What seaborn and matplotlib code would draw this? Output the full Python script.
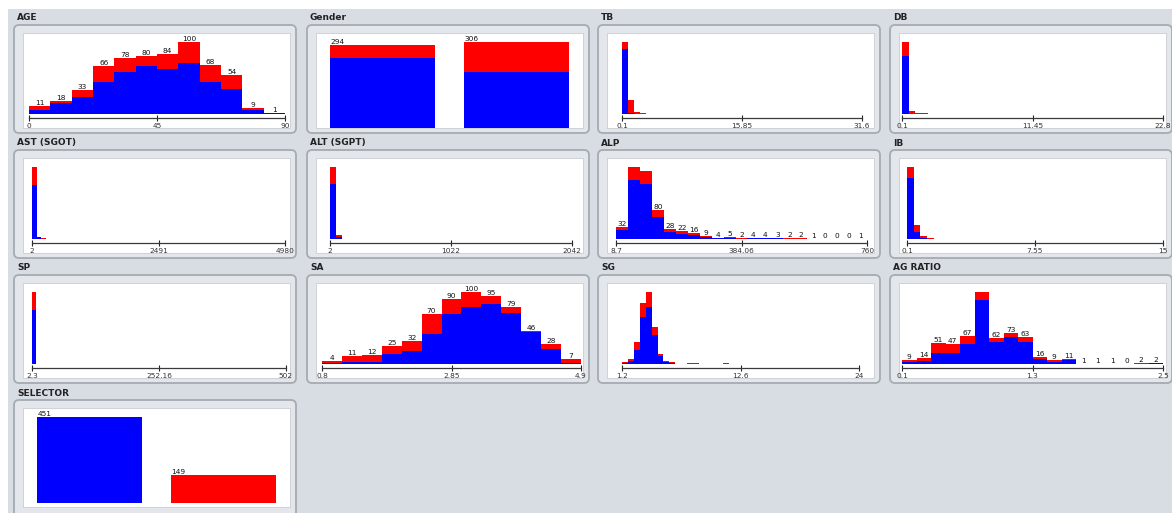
import numpy as np
import pandas as pd
import matplotlib
matplotlib.use("Agg")
import matplotlib.pyplot as plt
from matplotlib.patches import FancyBboxPatch, Rectangle
import seaborn as sns

# ---------------------------------------------------------------- data
# class colours: class "1" (blue) and class "2" (red)
BLUE = "#0000ff"
RED = "#ff0000"

age_range = (0, 90)
age_ticks = ["0", "45", "90"]
age_blue = [6, 15, 23, 45, 59, 67, 62, 71, 45, 35, 5, 1]
age_red = [5, 3, 10, 21, 19, 13, 22, 29, 23, 19, 4, 0]

gender_cats = ["Female", "Male"]
gender_blue = [250, 201]
gender_red = [44, 105]

tb_range = (0.1, 31.6)
tb_ticks = ["0.1", "15.85", "31.6"]
tb_blue = [439, 8, 2, 1, 0, 0, 0, 0, 0, 0, 0, 0, 0, 0, 0, 0, 0, 0, 0, 0,
           0, 0, 0, 0, 0, 0, 0, 0, 0, 0, 0, 0, 0, 0, 0, 0, 0, 0, 0, 1]
tb_red = [45, 83, 10, 5, 3, 2, 1, 0, 0, 0, 0, 0, 0, 0, 0, 0, 0, 0, 0, 0,
          0, 0, 0, 0, 0, 0, 0, 0, 0, 0, 0, 0, 0, 0, 0, 0, 0, 0, 0, 0]

db_range = (0.1, 22.8)
db_ticks = ["0.1", "11.45", "22.8"]
db_blue = [446, 3, 1, 1, 0, 0, 0, 0, 0, 0, 0, 0, 0, 0, 0, 0, 0, 0, 0, 0,
           0, 0, 0, 0, 0, 0, 0, 0, 0, 0, 0, 0, 0, 0, 0, 0, 0, 0, 0, 1]
db_red = [105, 23, 9, 6, 3, 2, 1, 0, 0, 0, 0, 0, 0, 0, 0, 0, 0, 0, 0, 0,
          0, 0, 0, 0, 0, 0, 0, 0, 0, 0, 0, 0, 0, 0, 0, 0, 0, 0, 0, 0]

ast_range = (2, 4980)
ast_ticks = ["2", "2491", "4980"]
ast_blue = [433, 12, 3, 1, 1, 0, 0, 0, 0, 0, 0, 0, 0, 0, 0, 0, 0, 0, 0, 0,
            0, 0, 0, 0, 0, 0, 0, 0, 0, 0, 0, 0, 0, 0, 0, 0, 0, 0, 0, 0,
            0, 0, 0, 0, 0, 0, 0, 0, 0, 0, 0, 0, 0, 0, 0, 1]
ast_red = [142, 4, 1, 1, 1, 0, 0, 0, 0, 0, 0, 0, 0, 0, 0, 0, 0, 0, 0, 0,
           0, 0, 0, 0, 0, 0, 0, 0, 0, 0, 0, 0, 0, 0, 0, 0, 0, 0, 0, 0,
           0, 0, 0, 0, 0, 0, 0, 0, 0, 0, 0, 0, 0, 0, 0, 0]

alt_range = (2, 2042)
alt_ticks = ["2", "1022", "2042"]
alt_blue = [424, 18, 3, 2, 1, 0, 1, 0, 0, 0, 0, 0, 0, 0, 0, 0, 0, 0, 0, 0,
            0, 0, 0, 0, 0, 0, 0, 0, 0, 0, 0, 0, 0, 0, 0, 0, 0, 0, 0, 2]
alt_red = [136, 13, 0, 0, 0, 0, 0, 0, 0, 0, 0, 0, 0, 0, 0, 0, 0, 0, 0, 0,
           0, 0, 0, 0, 0, 0, 0, 0, 0, 0, 0, 0, 0, 0, 0, 0, 0, 0, 0, 0]

alp_range = (8.1, 760)
alp_ticks = ["8.7", "384.06", "760"]
alp_blue = [24, 161, 152, 60, 18, 13, 10, 6, 3, 3, 1, 3, 2, 2, 1, 1, 1, 0, 0, 0, 1]
alp_red = [8, 37, 35, 20, 10, 9, 6, 3, 1, 2, 1, 1, 2, 1, 1, 1, 0, 0, 0, 0, 0]
alp_unlabelled = [1, 2]

ib_range = (0.1, 15)
ib_ticks = ["0.1", "7.55", "15"]
ib_blue = [405, 44, 8, 1, 1, 1, 0, 0, 0, 0, 0, 0, 0, 0, 0, 0, 0, 0, 0,
           0, 0, 0, 0, 0, 0, 0, 0, 0, 0, 0, 0, 0, 0, 0, 0, 0, 0, 1]
ib_red = [72, 49, 12, 3, 2, 1, 1, 0, 0, 0, 0, 0, 0, 0, 0, 0, 0, 0, 0,
          0, 0, 0, 0, 0, 0, 0, 0, 0, 0, 0, 0, 0, 0, 0, 0, 0, 0, 0]

sp_range = (2.3, 502)
sp_ticks = ["2.3", "252.16", "502"]
sp_blue = [449, 1, 0, 0, 0, 0, 0, 0, 0, 0, 0, 0, 0, 0, 0, 0,
           0, 0, 0, 0, 0, 0, 0, 0, 0, 0, 0, 0, 0, 0, 0, 0,
           0, 0, 0, 0, 0, 0, 0, 0, 0, 0, 0, 0, 0, 0, 0, 0,
           0, 0, 0, 0, 0, 0, 0, 0, 0, 0, 0, 0, 0, 0, 0, 1]
sp_red = [149, 0, 0, 0, 0, 0, 0, 0, 0, 0, 0, 0, 0, 0, 0, 0,
          0, 0, 0, 0, 0, 0, 0, 0, 0, 0, 0, 0, 0, 0, 0, 0,
          0, 0, 0, 0, 0, 0, 0, 0, 0, 0, 0, 0, 0, 0, 0, 0,
          0, 0, 0, 0, 0, 0, 0, 0, 0, 0, 0, 0, 0, 0, 0, 0]

sa_range = (0.8, 4.9)
sa_ticks = ["0.8", "2.85", "4.9"]
sa_blue = [1, 3, 3, 14, 18, 41, 70, 79, 83, 71, 44, 21, 1]
sa_red = [3, 8, 9, 11, 14, 29, 20, 21, 12, 8, 2, 7, 6]

sg_range = (1.2, 24)
sg_ticks = ["1.2", "12.6", "24"]
sg_blue = [4, 9, 39, 130, 157, 79, 23, 5, 4, 0, 0, 1, 1, 0, 0, 0, 0, 1, 0, 0,
           0, 0, 0, 0, 0, 0, 0, 0, 0, 0, 0, 0, 1, 0, 0, 0, 0, 0, 0, 1]
sg_red = [2, 5, 21, 38, 42, 23, 5, 4, 2, 0, 0, 1, 1, 0, 0, 0, 0, 1, 0, 0,
          0, 0, 0, 0, 0, 0, 0, 0, 0, 0, 0, 0, 0, 0, 0, 0, 0, 0, 0, 0]

agr_range = (0.1, 2.5)
agr_ticks = ["0.1", "1.3", "2.5"]
agr_blue = [5, 7, 26, 26, 47, 153, 52, 65, 52, 13, 4, 10, 1, 1, 0, 0, 1, 2]
agr_red = [4, 7, 25, 21, 20, 18, 10, 8, 11, 3, 5, 1, 0, 0, 1, 0, 1, 0]
agr_unlabelled = [5]

selector_cats = ["1", "2"]
selector_blue = [451, 0]
selector_red = [0, 149]

# ---------------------------------------------------------------- layout (pixels)
W, H = 1172, 513
WHITE_LEFT = [23, 316, 607, 899]
WHITE_W = 267
WHITE_TOP = [33, 158, 283, 408]
WHITE_H = 95

sns.set_theme(style="white")
plt.rcParams["font.family"] = ["DejaVu Sans"]

fig = plt.figure(figsize=(W / 100, H / 100), dpi=100)
fig.patch.set_facecolor("white")

bg = fig.add_axes([0, 0, 1, 1], zorder=0)
bg.set_xlim(0, W)
bg.set_ylim(H, 0)
bg.axis("off")
bg.add_patch(Rectangle((8, 9), W - 8, H - 9, facecolor="#d8dce3", edgecolor="none"))


def px_rect(x0, x1, y_top, y_bot):
    return [x0 / W, 1 - y_bot / H, (x1 - x0) / W, (y_bot - y_top) / H]


def frame(row, col, title):
    wl = WHITE_LEFT[col]
    wt = WHITE_TOP[row]
    fl, fr = wl - 9, wl + WHITE_W + 6
    ft = wt - 8
    fb = wt + WHITE_H + 5 if row < 3 else H + 10
    wh = WHITE_H if row < 3 else WHITE_H + 4
    bg.add_patch(FancyBboxPatch((fl, ft), fr - fl, fb - ft,
                                boxstyle="round,pad=0,rounding_size=5",
                                facecolor="#e3e6ea", edgecolor="#a6aab1", lw=1.3))
    bg.add_patch(Rectangle((wl, wt), WHITE_W, wh, facecolor="white",
                           edgecolor="#c9ccd2", lw=0.6))
    bg.text(fl + 3, wt - 15, title, fontsize=6.5, fontweight="bold",
            color="#222222", ha="left", va="center")
    return wl, wt


def histogram(row, col, title, rng, ticks, blue, red, span, labels=False,
              unlabelled=()):
    wl, wt = frame(row, col, title)
    x0, x1 = wl + span[0], wl + WHITE_W - span[1]
    base = wt + 81
    ax = fig.add_axes(px_rect(x0, x1, base - 72, base), zorder=2)
    ax.patch.set_alpha(0)
    n = len(blue)
    edges = np.linspace(rng[0], rng[1], n + 1)
    centers = (edges[:-1] + edges[1:]) / 2
    df = pd.DataFrame({
        "value": np.concatenate([centers, centers]),
        "count": np.concatenate([blue, red]),
        "cls": ["1"] * n + ["2"] * n,
    })
    sns.histplot(data=df, x="value", weights="count", hue="cls",
                 hue_order=["2", "1"], multiple="stack", bins=list(edges),
                 palette={"1": BLUE, "2": RED}, alpha=1, linewidth=0,
                 legend=False, ax=ax)
    totals = np.array(blue) + np.array(red)
    ax.set_xlim(rng[0], rng[1])
    ax.set_ylim(0, totals.max())
    if labels:
        for i, (c, t) in enumerate(zip(centers, totals)):
            if i in unlabelled:
                continue
            ax.text(c, t, str(t), fontsize=5.3, color="#111111",
                    ha="center", va="bottom", clip_on=False)
    for s in ("left", "right", "top"):
        ax.spines[s].set_visible(False)
    ax.spines["bottom"].set_position(("outward", 3))
    ax.spines["bottom"].set_color("#3a3a3a")
    ax.spines["bottom"].set_linewidth(0.9)
    ax.set_yticks([])
    ax.set_xticks([rng[0], (rng[0] + rng[1]) / 2, rng[1]])
    ax.set_xticklabels(ticks, fontsize=5.3, color="#333333")
    ax.tick_params(axis="x", bottom=True, direction="inout", length=5,
                   width=0.8, pad=1.2, color="#222222")
    ax.set_xlabel("")
    ax.set_ylabel("")


def nominal(row, col, title, cats, blue, red):
    wl, wt = frame(row, col, title)
    base = wt + WHITE_H
    ax = fig.add_axes(px_rect(wl, wl + WHITE_W, base - 86, base), zorder=2)
    ax.patch.set_alpha(0)
    totals = [b + r for b, r in zip(blue, red)]
    sns.barplot(x=cats, y=totals, color=RED, saturation=1, width=0.79,
                linewidth=0, ax=ax)
    sns.barplot(x=cats, y=blue, color=BLUE, saturation=1, width=0.79,
                linewidth=0, ax=ax)
    ax.set_xlim(-0.5, len(cats) - 0.5)
    ax.set_ylim(0, max(totals))
    for i, t in enumerate(totals):
        ax.text(i - 0.39, t, str(t), fontsize=5.3, color="#111111",
                ha="left", va="bottom", clip_on=False)
    ax.axis("off")


histogram(0, 0, "AGE", age_range, age_ticks, age_blue, age_red, (6, 5), labels=True)
nominal(0, 1, "Gender", gender_cats, gender_blue, gender_red)
histogram(0, 2, "TB", tb_range, tb_ticks, tb_blue, tb_red, (15, 12))
histogram(0, 3, "DB", db_range, db_ticks, db_blue, db_red, (3, 3))

histogram(1, 0, "AST (SGOT)", ast_range, ast_ticks, ast_blue, ast_red, (9, 5))
histogram(1, 1, "ALT (SGPT)", alt_range, alt_ticks, alt_blue, alt_red, (14, 11))
histogram(1, 2, "ALP", alp_range, alp_ticks, alp_blue, alp_red, (9, 7),
          labels=True, unlabelled=alp_unlabelled)
histogram(1, 3, "IB", ib_range, ib_ticks, ib_blue, ib_red, (8, 3))

histogram(2, 0, "SP", sp_range, sp_ticks, sp_blue, sp_red, (9, 4))
histogram(2, 1, "SA", sa_range, sa_ticks, sa_blue, sa_red, (6, 2), labels=True)
histogram(2, 2, "SG", sg_range, sg_ticks, sg_blue, sg_red, (15, 15))
histogram(2, 3, "AG RATIO", agr_range, agr_ticks, agr_blue, agr_red, (3, 3),
          labels=True, unlabelled=agr_unlabelled)

nominal(3, 0, "SELECTOR", selector_cats, selector_blue, selector_red)

fig.savefig("out.png", dpi=100, facecolor=fig.get_facecolor())
